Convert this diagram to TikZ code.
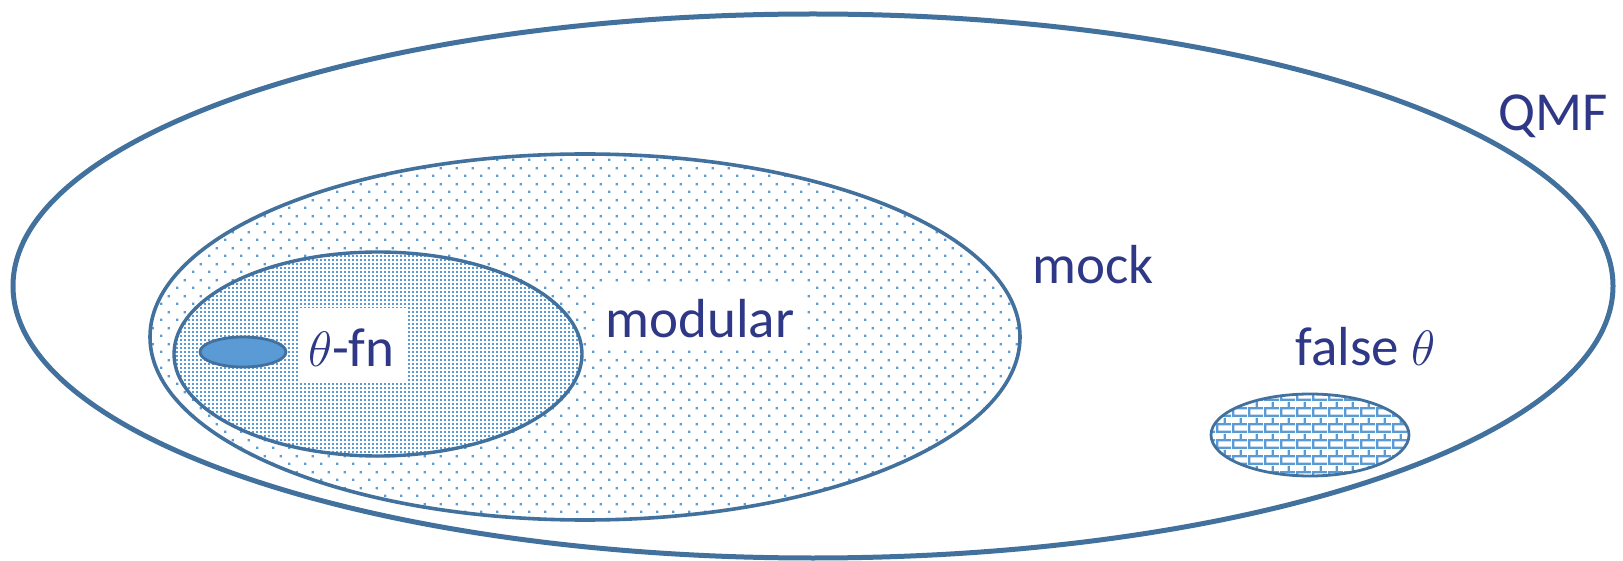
\documentclass[tikz,border=0pt]{standalone}
\usepackage{fontspec}
\setmainfont{Carlito}
\usetikzlibrary{patterns}
\definecolor{edgeblue}{RGB}{65,113,156}
\definecolor{fillblue}{RGB}{91,155,213}
\definecolor{textnavy}{RGB}{46,56,134}
\pgfdeclarepatternformonly{mysparsedots}{\pgfpointorigin}{\pgfpoint{8pt}{8pt}}{\pgfpoint{8pt}{8pt}}{%
  \pgfpathrectangle{\pgfpoint{0pt}{0pt}}{\pgfpoint{1.2pt}{1.2pt}}%
  \pgfpathrectangle{\pgfpoint{4pt}{4pt}}{\pgfpoint{1.2pt}{1.2pt}}%
  \pgfusepath{fill}}
\pgfdeclarepatternformonly{mydensedots}{\pgfpointorigin}{\pgfpoint{2pt}{2pt}}{\pgfpoint{2pt}{2pt}}{%
  \pgfpathrectangle{\pgfpoint{0pt}{0pt}}{\pgfpoint{1.1pt}{1.1pt}}%
  \pgfusepath{fill}}
\pgfdeclarepatternformonly{mybrickwall}{\pgfpointorigin}{\pgfpoint{8pt}{8pt}}{\pgfpoint{8pt}{8pt}}{%
  \pgfpathrectangle{\pgfpoint{0pt}{0pt}}{\pgfpoint{8pt}{1.2pt}}%
  \pgfpathrectangle{\pgfpoint{0pt}{4pt}}{\pgfpoint{8pt}{1.2pt}}%
  \pgfpathrectangle{\pgfpoint{0pt}{0pt}}{\pgfpoint{1.2pt}{4pt}}%
  \pgfpathrectangle{\pgfpoint{4pt}{4pt}}{\pgfpoint{1.2pt}{4pt}}%
  \pgfusepath{fill}}
\tikzset{
  setline/.style={draw=edgeblue},
  label text/.style={text=textnavy, font=\fontsize{27.5pt}{33pt}\selectfont, inner sep=0pt, anchor=base west}
}
\begin{document}
\begin{tikzpicture}[x=0.5pt,y=-0.5pt]
\useasboundingbox (0,0) rectangle (1623,561);
% outer QMF
\draw[setline, line width=2.5pt] (813,286) ellipse [x radius=400pt, y radius=136pt];
% mock
\fill[pattern=mysparsedots, pattern color=fillblue] (585,337) ellipse [x radius=217.5pt, y radius=91.5pt];
\draw[setline, line width=1.8pt] (585,337) ellipse [x radius=217.5pt, y radius=91.5pt];
% modular
\fill[white] (378,354) ellipse [x radius=102pt, y radius=51pt];
\fill[pattern=mydensedots, pattern color=fillblue] (378,354) ellipse [x radius=102pt, y radius=51pt];
\draw[setline, line width=1.7pt] (378,354) ellipse [x radius=102pt, y radius=51pt];
% theta-fn
\draw[setline, fill=fillblue, line width=1.4pt] (243,352) ellipse [x radius=21.5pt, y radius=7.5pt];
% false theta
\fill[pattern=mybrickwall, pattern color=fillblue] (1310,435) ellipse [x radius=49.5pt, y radius=20.5pt];
\draw[setline, line width=1.4pt] (1310,435) ellipse [x radius=49.5pt, y radius=20.5pt];
% label boxes
\fill[white] (595,286) rectangle (807,349);
\fill[white] (298,308) rectangle (406,381);
% labels
\node[label text] (qmf) at (1498,131) {QMF};
\node[label text] (mock) at (1032,284) {mock};
\node[label text] (modular) at (605,337) {modular};
\node[label text] (thetafn) at (308,366) {$\theta$-fn};
\node[label text] (falsetheta) at (1295,365) {false $\theta$};
\end{tikzpicture}
\end{document}
